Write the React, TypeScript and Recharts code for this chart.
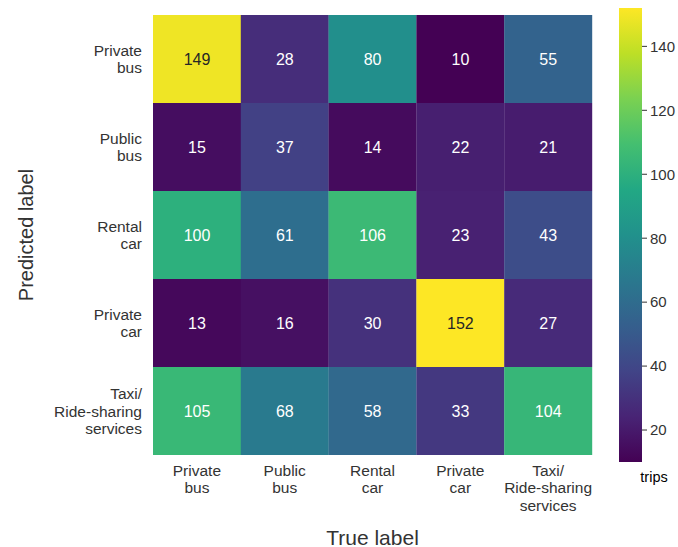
import { Bar, BarChart, Cell, LabelList, XAxis, YAxis } from 'recharts'

// class names, shared by both axes
const trueLabels = ['Private\nbus', 'Public\nbus', 'Rental\ncar', 'Private\ncar', 'Taxi/\nRide-sharing\nservices']
const predictedLabels = ['Private\nbus', 'Public\nbus', 'Rental\ncar', 'Private\ncar', 'Taxi/\nRide-sharing\nservices']

// one array per predicted row, in true-label order
const privateBusRow = [149, 28, 80, 10, 55]
const publicBusRow = [15, 37, 14, 22, 21]
const rentalCarRow = [100, 61, 106, 23, 43]
const privateCarRow = [13, 16, 30, 152, 27]
const taxiRow = [105, 68, 58, 33, 104]
const rows = [privateBusRow, publicBusRow, rentalCarRow, privateCarRow, taxiRow]

const colorMin = 10
const colorMax = 152
const colorbarTicks = [20, 40, 60, 80, 100, 120, 140]

const VIRIDIS = [
  '#440154', '#482475', '#414487', '#355f8d', '#2a788e', '#21918c',
  '#22a884', '#44bf70', '#7ad151', '#bddf26', '#fde725'
]

const FONT = '"Liberation Sans", Arial, sans-serif'
const TEXT = '#333333'

const hexToRgb = (h: string) => [1, 3, 5].map((i) => parseInt(h.slice(i, i + 2), 16))

function viridis(value: number) {
  const t = Math.min(1, Math.max(0, (value - colorMin) / (colorMax - colorMin)))
  const pos = t * (VIRIDIS.length - 1)
  const i = Math.min(VIRIDIS.length - 2, Math.floor(pos))
  const f = pos - i
  const a = hexToRgb(VIRIDIS[i])
  const b = hexToRgb(VIRIDIS[i + 1])
  return a.map((c, k) => Math.round(c + (b[k] - c) * f))
}

const rgbStr = (c: number[]) => `rgb(${c[0]},${c[1]},${c[2]})`

// same rule seaborn uses to pick annotation colour
function textColor(value: number) {
  const lin = viridis(value).map((c) => {
    const s = c / 255
    return s <= 0.03928 ? s / 12.92 : Math.pow((s + 0.055) / 1.055, 2.4)
  })
  const lum = 0.2126 * lin[0] + 0.7152 * lin[1] + 0.0722 * lin[2]
  return lum > 0.408 ? '#262626' : '#ffffff'
}

// one entry per true-label column; h* are the unit heights of stacked cells, v* the counts
const chartData = trueLabels.map((name, j) => {
  const entry: Record<string, string | number> = { name }
  rows.forEach((row, i) => {
    entry[`h${i}`] = 1
    entry[`v${i}`] = row[j]
  })
  return entry
})

const colorbarData = [{ name: 'trips', span: [colorMin, colorMax] }]

const LINE = 17.5

function XTick({ x, y, payload }: any) {
  const lines = String(payload.value).split('\n')
  return (
    <text x={x} y={y} textAnchor="middle" fontFamily={FONT} fontSize={15.5} fill={TEXT}>
      {lines.map((l, k) => (
        <tspan key={k} x={x} y={y + 9 + k * LINE} dominantBaseline="central">
          {l}
        </tspan>
      ))}
    </text>
  )
}

function YTick({ x, y, payload }: any) {
  const idx = rows.length - 1 - Math.floor(payload.value)
  const lines = (predictedLabels[idx] ?? '').split('\n')
  const off = ((lines.length - 1) * LINE) / 2
  return (
    <text x={x} y={y} textAnchor="end" fontFamily={FONT} fontSize={15.5} fill={TEXT}>
      {lines.map((l, k) => (
        <tspan key={k} x={x} y={y - off + k * LINE} dominantBaseline="central">
          {l}
        </tspan>
      ))}
    </text>
  )
}

function CellValue({ x, y, width, height, value }: any) {
  return (
    <text
      x={x + width / 2}
      y={y + height / 2}
      textAnchor="middle"
      dominantBaseline="central"
      fontFamily={FONT}
      fontSize={16}
      fill={textColor(Number(value))}
    >
      {value}
    </text>
  )
}

export default function App() {
  // bottom of the stack is the last predicted row
  const order = [4, 3, 2, 1, 0]

  return (
    <div style={{ position: 'absolute', left: 0, top: 0, width: 678, height: 547, background: '#fff' }}>
      <div style={{ position: 'absolute', left: 0, top: 0 }}>
        <BarChart
          width={600}
          height={547}
          data={chartData}
          margin={{ top: 15, right: 8, left: 12, bottom: 32 }}
          barCategoryGap={0}
          barGap={0}
        >
          <XAxis
            dataKey="name"
            height={60}
            axisLine={false}
            tickLine={false}
            tickSize={0}
            tickMargin={6}
            interval={0}
            tick={<XTick />}
            label={{
              content: ({ viewBox }: any) => (
                <text
                  x={viewBox.x + viewBox.width / 2}
                  y={viewBox.y + 82}
                  textAnchor="middle"
                  dominantBaseline="central"
                  fontFamily={FONT}
                  fontSize={21}
                  fill={TEXT}
                >
                  True label
                </text>
              )
            }}
          />
          <YAxis
            type="number"
            domain={[0, 5]}
            ticks={[0.5, 1.5, 2.5, 3.5, 4.5]}
            width={141}
            axisLine={false}
            tickLine={false}
            tickSize={0}
            tickMargin={11}
            interval={0}
            tick={<YTick />}
            label={{
              content: ({ viewBox }: any) => {
                const cx = viewBox.x + 14
                const cy = viewBox.y + viewBox.height / 2
                return (
                  <text
                    x={cx}
                    y={cy}
                    transform={`rotate(-90 ${cx} ${cy})`}
                    textAnchor="middle"
                    dominantBaseline="central"
                    fontFamily={FONT}
                    fontSize={20}
                    fill={TEXT}
                  >
                    Predicted label
                  </text>
                )
              }
            }}
          />
          {order.map((i) => (
            <Bar key={i} dataKey={`h${i}`} stackId="cm" isAnimationActive={false}>
              {rows[i].map((v, j) => (
                <Cell key={j} fill={rgbStr(viridis(v))} />
              ))}
              <LabelList dataKey={`v${i}`} content={<CellValue />} />
            </Bar>
          ))}
        </BarChart>
      </div>

      <div style={{ position: 'absolute', left: 600, top: 0 }}>
        <BarChart
          width={78}
          height={547}
          data={colorbarData}
          margin={{ top: 8, right: 0, left: 19, bottom: 85 }}
          barCategoryGap={0}
        >
          <defs>
            <linearGradient id="viridisGrad" x1="0" y1="1" x2="0" y2="0">
              {VIRIDIS.map((c, k) => (
                <stop key={k} offset={`${(k / (VIRIDIS.length - 1)) * 100}%`} stopColor={c} />
              ))}
            </linearGradient>
          </defs>
          <XAxis dataKey="name" hide />
          <YAxis
            orientation="right"
            type="number"
            domain={[colorMin, colorMax]}
            ticks={colorbarTicks}
            allowDataOverflow
            width={36}
            axisLine={false}
            tickSize={5}
            tickMargin={3}
            tickLine={{ stroke: TEXT }}
            tick={{ fontFamily: FONT, fontSize: 15, fill: TEXT }}
            label={{
              content: ({ viewBox }: any) => (
                <text
                  x={viewBox.x + 12}
                  y={viewBox.y + viewBox.height + 15}
                  textAnchor="middle"
                  dominantBaseline="central"
                  fontFamily={FONT}
                  fontSize={14.5}
                  fill="#000"
                >
                  trips
                </text>
              )
            }}
          />
          <Bar dataKey="span" fill="url(#viridisGrad)" isAnimationActive={false} />
        </BarChart>
      </div>
    </div>
  )
}
